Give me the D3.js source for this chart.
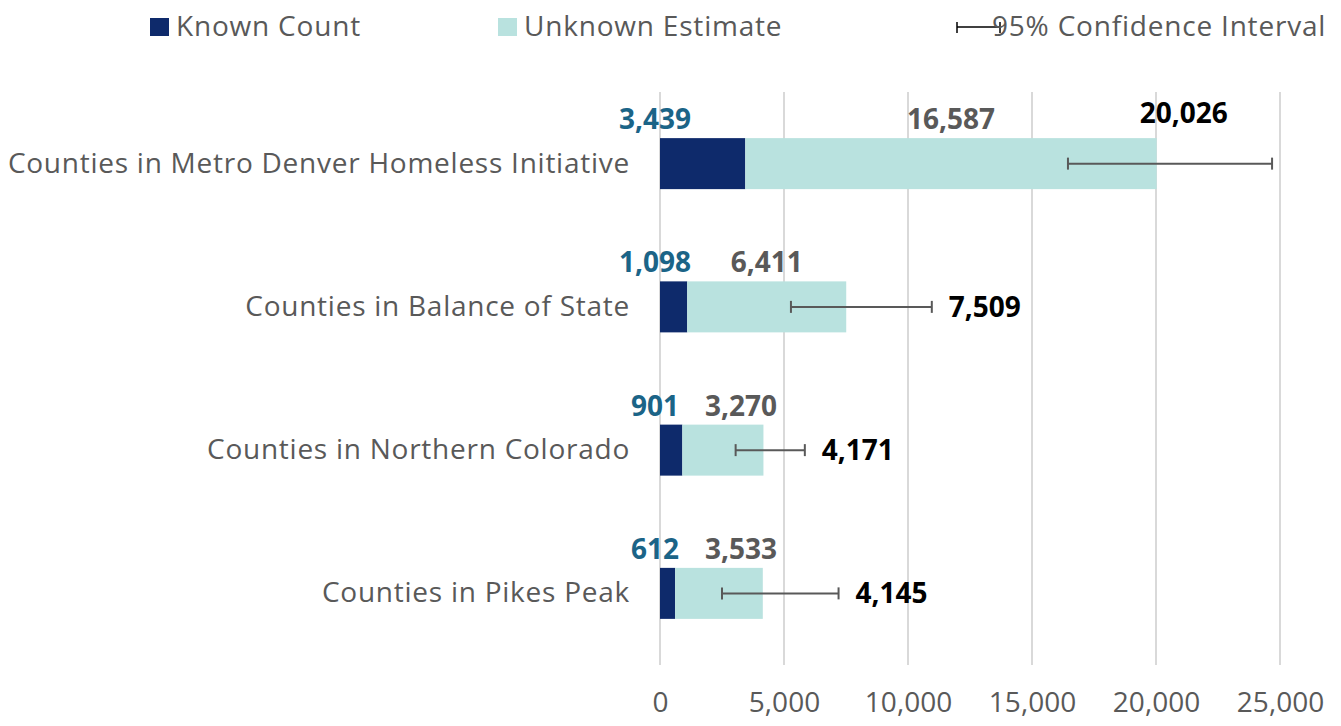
<!DOCTYPE html>
<html>
<head>
<meta charset="utf-8">
<script src="https://cdn.jsdelivr.net/npm/d3@7"></script>
<style>
  html, body { margin: 0; padding: 0; background: #fff; }
  svg { display: block; font-family: "Open Sans", sans-serif; }
</style>
</head>
<body>
<svg id="chart" width="1341" height="726"></svg>
<script>
const categories = [
  "Counties in Metro Denver Homeless Initiative",
  "Counties in Balance of State",
  "Counties in Northern Colorado",
  "Counties in Pikes Peak"
];
const knownCount = [3439, 1098, 901, 612];
const unknownEstimate = [16587, 6411, 3270, 3533];
const totalEstimate = [20026, 7509, 4171, 4145];
const ciLow = [16450, 5280, 3050, 2500];
const ciHigh = [24680, 10960, 5840, 7200];
const xTicks = [0, 5000, 10000, 15000, 20000, 25000];
const legendLabels = ["Known Count", "Unknown Estimate", "95% Confidence Interval"];

const W = 1341, H = 726;
const FONT = "'Open Sans', sans-serif";
const colKnown = "#0E2A6B", colUnknown = "#B9E2DF", colKnownLbl = "#1B6487",
      colGray = "#595959", colGrid = "#D9D9D9";
const fmt = d3.format(",");

const svg = d3.select("#chart");
const x = d3.scaleLinear().domain([0, 25000]).range([660, 1280]);
const y = d3.scaleBand().domain(categories).range([92, 665]).paddingInner(0.644).paddingOuter(0.322);

// gridlines
svg.append("g").selectAll("line").data(xTicks).join("line")
  .attr("x1", d => x(d)).attr("x2", d => x(d))
  .attr("y1", 92).attr("y2", 665)
  .attr("stroke", colGrid).attr("stroke-width", 2);

// x axis tick labels
const xAxis = d3.axisBottom(x).tickValues(xTicks).tickFormat(fmt).tickSize(0).tickPadding(0);
const gx = svg.append("g").attr("transform", "translate(0,686)").call(xAxis);
gx.select(".domain").remove();
gx.selectAll("text").attr("font-size", 28).attr("fill", colGray)
  .attr("font-family", FONT).attr("dy", "0.92em");

// y axis category labels
const yAxis = d3.axisLeft(y).tickSize(0).tickPadding(0);
const gy = svg.append("g").attr("transform", "translate(630,0)").call(yAxis);
gy.select(".domain").remove();
gy.selectAll("text").attr("font-size", 28).attr("fill", colGray)
  .attr("font-family", FONT).attr("letter-spacing", 0.75);

const rows = categories.map((c, i) => ({
  c, k: knownCount[i], u: unknownEstimate[i], t: totalEstimate[i], lo: ciLow[i], hi: ciHigh[i]
}));

// bars
svg.append("g").selectAll("rect").data(rows).join("rect")
  .attr("x", d => x(0)).attr("width", d => x(d.k) - x(0))
  .attr("y", d => y(d.c)).attr("height", y.bandwidth()).attr("fill", colKnown);
svg.append("g").selectAll("rect").data(rows).join("rect")
  .attr("x", d => x(d.k)).attr("width", d => x(d.k + d.u) - x(d.k))
  .attr("y", d => y(d.c)).attr("height", y.bandwidth()).attr("fill", colUnknown);

// error bars
const eb = svg.append("g").attr("stroke", colGray).attr("stroke-width", 2);
rows.forEach(d => {
  const cy = y(d.c) + y.bandwidth() / 2;
  eb.append("line").attr("x1", x(d.lo)).attr("x2", x(d.hi)).attr("y1", cy).attr("y2", cy);
  eb.append("line").attr("x1", x(d.lo)).attr("x2", x(d.lo)).attr("y1", cy - 6).attr("y2", cy + 6);
  eb.append("line").attr("x1", x(d.hi)).attr("x2", x(d.hi)).attr("y1", cy - 6).attr("y2", cy + 6);
});

// labels
const lbl = svg.append("g").attr("font-weight", "bold").attr("font-size", 28)
  .attr("font-family", FONT);
const knownEnds = [];
lbl.selectAll(".kl").data(rows).join("text").attr("class", "kl")
  .attr("x", x(0) - 5).attr("y", d => y(d.c) - 9)
  .attr("text-anchor", "middle").attr("fill", colKnownLbl).text(d => fmt(d.k))
  .each(function() { knownEnds.push(x(0) - 5 + this.getComputedTextLength() / 2); });
lbl.selectAll(".ul").data(rows).join("text").attr("class", "ul")
  .attr("y", d => y(d.c) - 9)
  .attr("text-anchor", "middle").attr("fill", colGray).text(d => fmt(d.u))
  .each(function(d, i) {
    const w = this.getComputedTextLength();
    const cx = Math.max((x(d.k) + x(d.k + d.u)) / 2, knownEnds[i] + 26 + w / 2);
    d3.select(this).attr("x", cx);
  });
lbl.selectAll(".tl").data(rows).join("text").attr("class", "tl")
  .each(function(d) {
    const el = d3.select(this).attr("fill", "#000").text(fmt(d.t));
    const cy = y(d.c) + y.bandwidth() / 2;
    if (x(d.hi) + 17 + this.getComputedTextLength() > W) {
      el.attr("x", x(d.t) - 17).attr("y", y(d.c) - 15);
    } else {
      el.attr("x", x(d.hi) + 17).attr("y", cy).attr("dy", "0.35em");
    }
  });

// legend
const lg = svg.append("g").attr("font-size", 28).attr("fill", colGray)
  .attr("font-family", FONT).attr("letter-spacing", 0.8);
lg.append("rect").attr("x", 150).attr("y", 18).attr("width", 19).attr("height", 18).attr("fill", colKnown);
lg.append("text").attr("x", 176).attr("y", 26).attr("dy", "0.35em").text(legendLabels[0]);
lg.append("rect").attr("x", 498).attr("y", 18).attr("width", 19).attr("height", 18).attr("fill", colUnknown);
lg.append("text").attr("x", 524).attr("y", 26).attr("dy", "0.35em").text(legendLabels[1]);
const le = lg.append("g").attr("stroke", "#000").attr("stroke-width", 1.5);
le.append("line").attr("x1", 957).attr("x2", 1000).attr("y1", 27).attr("y2", 27);
le.append("line").attr("x1", 957).attr("x2", 957).attr("y1", 22).attr("y2", 33);
le.append("line").attr("x1", 1000).attr("x2", 1000).attr("y1", 22).attr("y2", 33);
lg.append("text").attr("x", 992).attr("y", 26).attr("dy", "0.35em").text(legendLabels[2]);
</script>
</body>
</html>
